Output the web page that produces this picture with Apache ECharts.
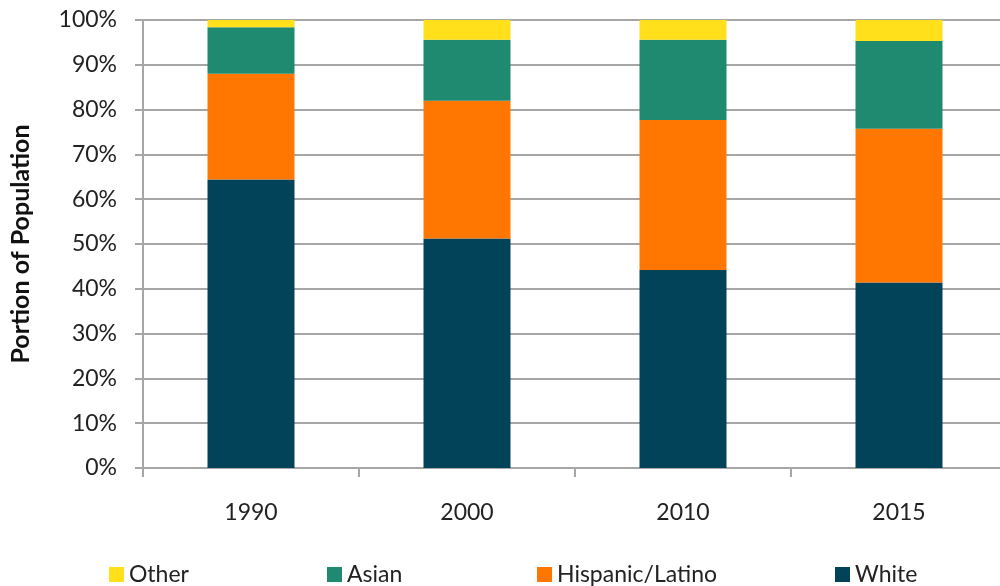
<!DOCTYPE html>
<html>
<head>
<meta charset="utf-8">
<script src="https://cdn.jsdelivr.net/npm/echarts@6/dist/echarts.min.js"></script>
<style>
  html, body { margin: 0; padding: 0; background: #fff; overflow: hidden; }
  /* the plot runs a little past the right edge, as in the original */
  #chart { width: 1010px; height: 586px; }
</style>
</head>
<body>
<div id="chart"></div>
<script>
const years = ['1990', '2000', '2010', '2015'];
const white = [64.4, 51.2, 44.2, 41.4];
const hispanic = [23.6, 30.8, 33.5, 34.3];
const asian = [10.4, 13.6, 17.9, 19.6];
const other = [1.6, 4.4, 4.4, 4.7];

const font = 'Lato';
const gridGray = '#a6a6a6';

const myChart = echarts.init(document.getElementById('chart'));

const makeLegend = (name, left) => ({
    data: [name],
    left: left,
    top: 558,
    itemWidth: 15,
    itemHeight: 15,
    icon: 'rect',
    textStyle: { fontFamily: font, fontSize: 23, color: '#222' }
});

const option = {
    animation: false,
    color: ['#02435a', '#ff7700', '#1f8a70', '#ffe01b'],
    legend: [
        makeLegend('Other', 104),
        makeLegend('Asian', 322),
        makeLegend('Hispanic/Latino', 532),
        makeLegend('White', 830)
    ],
    grid: {
        left: 143,
        top: 20,
        right: 3,
        bottom: 118
    },
    xAxis: {
        type: 'category',
        data: years,
        axisLine: { lineStyle: { color: gridGray, width: 2 } },
        axisTick: { show: true, length: 9, lineStyle: { color: gridGray, width: 2 } },
        axisLabel: { fontFamily: font, fontSize: 23, color: '#222', margin: 33 }
    },
    yAxis: {
        type: 'value',
        min: 0,
        max: 100,
        interval: 10,
        name: 'Portion of Population',
        nameLocation: 'middle',
        nameGap: 110,
        nameTextStyle: { fontFamily: font, fontSize: 25, fontWeight: 'bold', color: '#111' },
        axisLine: { show: true, lineStyle: { color: gridGray, width: 2 } },
        axisTick: { show: true, length: 8, lineStyle: { color: gridGray, width: 2 } },
        axisLabel: {
            fontFamily: font, fontSize: 23, color: '#222', margin: 26,
            formatter: '{value}%'
        },
        splitLine: { lineStyle: { color: gridGray, width: 2 } }
    },
    series: [
        { name: 'White', type: 'bar', stack: 'pop', data: white, barWidth: 87 },
        { name: 'Hispanic/Latino', type: 'bar', stack: 'pop', data: hispanic },
        { name: 'Asian', type: 'bar', stack: 'pop', data: asian },
        { name: 'Other', type: 'bar', stack: 'pop', data: other }
    ]
};

myChart.setOption(option);
</script>
</body>
</html>
